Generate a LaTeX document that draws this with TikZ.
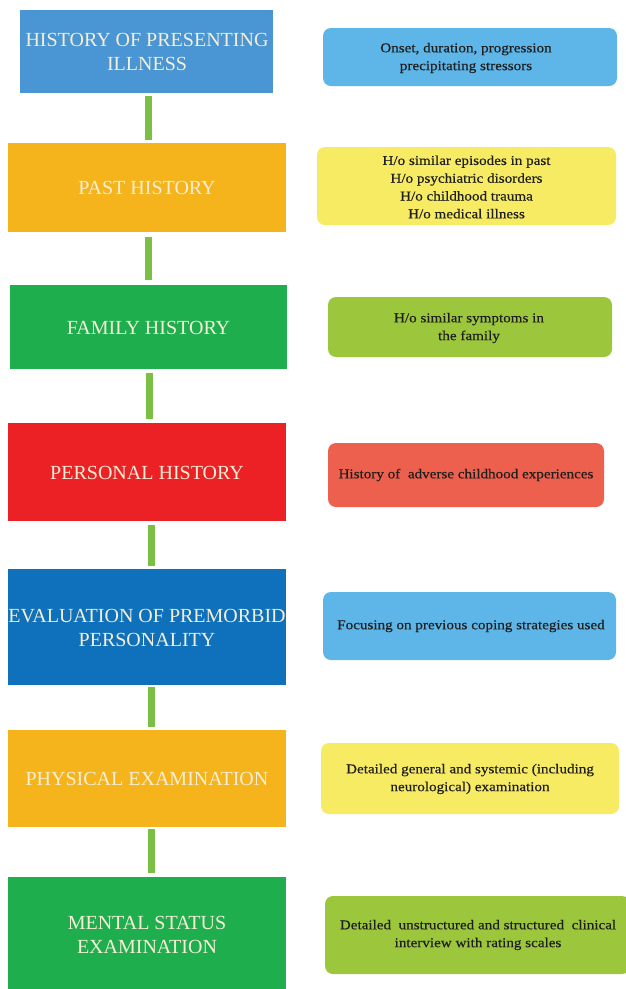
\documentclass[tikz,border=0pt]{standalone}
\usepackage{fontspec}
\setmainfont{Liberation Serif}
\newfontfamily\notefont{Liberation Serif}[FakeStretch=1.12, FakeBold=0.4]
\begin{document}
\begin{tikzpicture}[x=1pt,y=-1pt,
  stage/.style={inner sep=0pt, text=stagetext, font=\fontsize{20}{24}\selectfont, align=center},
  note/.style={rounded corners=8pt, inner sep=0pt, text=notetext, font=\notefont\fontsize{13.5}{17.8}\selectfont, align=center},
  link/.style={draw=linkgreen, line width=7pt}]
\definecolor{stagetext}{HTML}{F4EED6}
\definecolor{notetext}{HTML}{1E1E1E}
\definecolor{linkgreen}{HTML}{7BBF45}
\definecolor{blueA}{HTML}{4A95D3}
\definecolor{orangeA}{HTML}{F6B41C}
\definecolor{greenA}{HTML}{1EAE4E}
\definecolor{redA}{HTML}{EC2125}
\definecolor{blueB}{HTML}{0F70BC}
\definecolor{skyA}{HTML}{5EB6E8}
\definecolor{yellowA}{HTML}{F7EB64}
\definecolor{limeA}{HTML}{9CC73C}
\definecolor{salmonA}{HTML}{EE604E}
\useasboundingbox (0,0) rectangle (625,989);
\fill[white] (0,0) rectangle (625,989);

% stage boxes (left column)
\fill[blueA]   (20,10)  rectangle (273,93);
\fill[orangeA] (8,143)  rectangle (286,232);
\fill[greenA]  (10,285) rectangle (287,369);
\fill[redA]    (8,423)  rectangle (286,521);
\fill[blueB]   (8,569)  rectangle (286,685);
\fill[orangeA] (8,730)  rectangle (286,827);
\fill[greenA]  (8,877)  rectangle (286,989);

\node[stage] (s1) at (147,52) {HISTORY OF PRESENTING\\ILLNESS};
\node[stage] (s2) at (147,188) {PAST HISTORY};
\node[stage] (s3) at (148.5,328) {FAMILY HISTORY};
\node[stage] (s4) at (147,473) {PERSONAL HISTORY};
\node[stage] (s5) at (147,628) {EVALUATION OF PREMORBID\\PERSONALITY};
\node[stage] (s6) at (147,779) {PHYSICAL EXAMINATION};
\node[stage] (s7) at (147,935) {MENTAL STATUS\\EXAMINATION};

% connectors between stages
\coordinate (c1a) at (148,96);  \coordinate (c1b) at (148,140);
\coordinate (c2a) at (148,237); \coordinate (c2b) at (148,280);
\coordinate (c3a) at (149,373); \coordinate (c3b) at (149,419);
\coordinate (c4a) at (151,525); \coordinate (c4b) at (151,566);
\coordinate (c5a) at (151,687); \coordinate (c5b) at (151,727);
\coordinate (c6a) at (151,829); \coordinate (c6b) at (151,873);
\draw[link] (c1a) -- (c1b);
\draw[link] (c2a) -- (c2b);
\draw[link] (c3a) -- (c3b);
\draw[link] (c4a) -- (c4b);
\draw[link] (c5a) -- (c5b);
\draw[link] (c6a) -- (c6b);

% detail notes (right column)
\fill[note, skyA]    (323,28)  rectangle (617,86);
\fill[note, yellowA] (317,147) rectangle (616,225);
\fill[note, limeA]   (328,297) rectangle (612,357);
\fill[note, salmonA] (328,443) rectangle (604,507);
\fill[note, skyA]    (323,592) rectangle (616,660);
\fill[note, yellowA] (321,743) rectangle (619,814);
\fill[note, limeA]   (325,896) rectangle (630,974);

\node[note] (n1) at (466,58) {Onset, duration, progression\\precipitating stressors};
\node[note] (n2) at (466.5,187) {H/o similar episodes in past\\H/o psychiatric disorders\\H/o childhood trauma\\H/o medical illness};
\node[note] (n3) at (469,328) {H/o similar symptoms in\\the family};
\node[note] (n4) at (466,475) {History of\ \ adverse childhood experiences};
\node[note] (n5) at (471,626) {Focusing on previous coping strategies used};
\node[note] (n6) at (470,779) {Detailed general and systemic (including\\neurological) examination};
\node[note] (n7) at (478,935) {Detailed\ \ unstructured and structured\ \ clinical\\interview with rating scales};
\end{tikzpicture}
\end{document}
